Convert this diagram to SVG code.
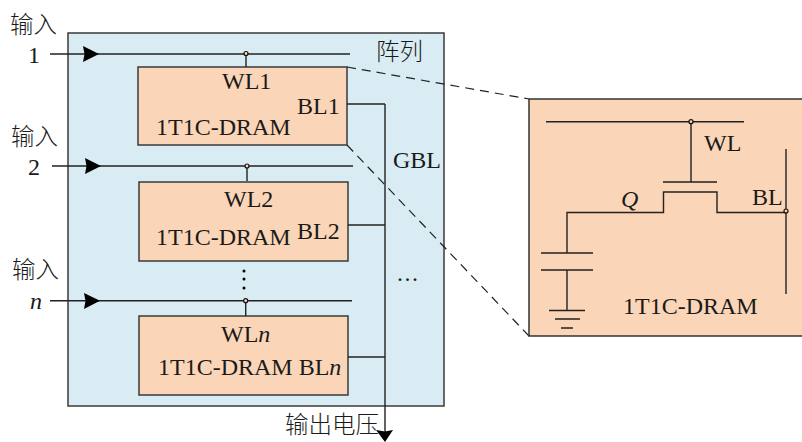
<svg xmlns="http://www.w3.org/2000/svg" width="802" height="442" viewBox="0 0 802 442">
<style>
.box{fill:#fbd5b7;stroke:#3a3a3a;stroke-width:1.5}
.w{fill:none;stroke:#222;stroke-width:1.4}
.d{fill:none;stroke:#222;stroke-width:1.2;stroke-dasharray:9 6}
.dot{fill:#fbd5b7;stroke:#111;stroke-width:1.2}
.ar{fill:#000}
text{font-family:"Liberation Serif","Noto Sans CJK SC",serif;font-size:24px;fill:#1a1a1a}
.cjk{font-family:"Noto Sans CJK SC","Liberation Serif",serif;font-weight:300;font-size:23.500px}
.i{font-style:italic}
</style>
<rect width="802" height="442" fill="#fff"/>
<g id="array"><rect x="68" y="33" width="376" height="373" fill="#d9ecf3" stroke="#3a3a3a" stroke-width="1.5"/><text class="cjk" x="376" y="60">阵列</text><text x="393" y="168">GBL</text><text x="397" y="281" letter-spacing="1.500" font-size="21">...</text></g>
<g id="cell1"><rect class="box" x="138" y="67" width="209" height="78"/><text x="222" y="89">WL1</text><text x="297" y="114">BL1</text><text x="156" y="135">1T1C-DRAM</text></g>
<g id="cell2"><rect class="box" x="139" y="182" width="209" height="79"/><text x="224" y="207">WL2</text><text x="297" y="239">BL2</text><text x="156" y="245">1T1C-DRAM</text></g>
<g id="celln"><rect class="box" x="139" y="316" width="209" height="79"/><text x="221" y="342">WL<tspan class="i">n</tspan></text><text x="158" y="375">1T1C-DRAM BL<tspan class="i">n</tspan></text></g>
<g id="inputs"><text class="cjk" x="10" y="33">输入</text><text x="28" y="63">1</text><text class="cjk" x="11" y="145">输入</text><text x="28" y="175">2</text><text class="cjk" x="12" y="278">输入</text><text class="i" x="30" y="309">n</text></g>
<g id="connectors">
<path class="w" d="M50 54H350M246 54V67M52 166H353M247 166V181M50 300.700H352M245.700 300.700V316M347 104H385M348 225H385M348 357H385M385 104V432"/>
<path class="ar" d="M83 46L99 54L83 62L84.500 54ZM85 158L101 166L85 174L86.500 166ZM84 293L100 300.700L84 309L85.500 300.700ZM376 430L385 431.500L393 430L385 442Z"/>
<circle class="dot" cx="246" cy="53.500" r="2"/><circle class="dot" cx="247" cy="166" r="2"/><circle class="dot" cx="245.700" cy="300.700" r="2"/>
<path class="d" d="M347 67L529 99M347 145L529 336"/>
<circle cx="244" cy="271" r="1.500"/><circle cx="244" cy="279" r="1.500"/><circle cx="244" cy="288" r="1.500"/>
</g>
<text id="output" class="cjk" x="285" y="433">输出电压</text>
<g id="detail"><rect x="529" y="99" width="280" height="237" fill="#fbd5b7" stroke="#333" stroke-width="1.500"/>
<path class="w" d="M546 121.700H744M691 121.700V182M663 182H717M567 253V212.500H663.500V192H717V212.500H786M786 149V294M541 253H593M541 270H593M567 270V310.500M549 310.500H585M555 319H580M561 328H573"/>
<circle class="dot" cx="691" cy="121.700" r="2"/><circle class="dot" cx="786" cy="211" r="2"/>
<text x="704" y="151">WL</text><text class="i" x="621" y="207">Q</text><text x="752" y="205">BL</text><text x="623" y="314">1T1C-DRAM</text></g>
</svg>
